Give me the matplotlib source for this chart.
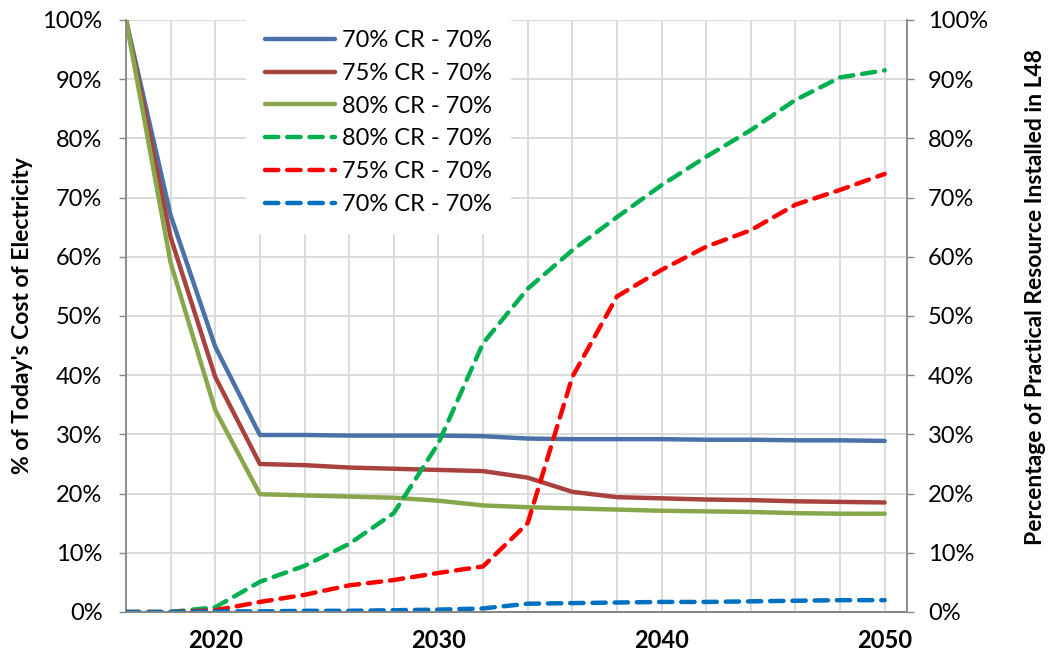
import matplotlib.pyplot as plt
from matplotlib.ticker import FuncFormatter

plt.rcParams['font.family'] = ['Lato', 'DejaVu Sans']

years = list(range(2016, 2051, 2))

# cost of electricity, % of today (left axis)
cost_70 = [100, 67, 44.8, 29.9, 29.9, 29.8, 29.8, 29.8, 29.7, 29.3, 29.2, 29.2, 29.2, 29.1, 29.1, 29.0, 29.0, 28.9]
cost_75 = [100, 63.3, 39.7, 25.0, 24.8, 24.4, 24.2, 24.0, 23.8, 22.7, 20.3, 19.4, 19.2, 19.0, 18.9, 18.7, 18.6, 18.5]
cost_80 = [100, 59, 34.1, 19.9, 19.7, 19.5, 19.3, 18.8, 18.0, 17.7, 17.5, 17.3, 17.1, 17.0, 16.9, 16.7, 16.6, 16.6]

# share of practical resource installed (right axis)
inst_80 = [0, 0, 0.8, 5.1, 7.8, 11.5, 16.7, 28.5, 45.4, 54.6, 61.1, 66.7, 72.1, 76.9, 81.4, 86.5, 90.3, 91.5]
inst_75 = [0, 0, 0.3, 1.7, 2.9, 4.5, 5.4, 6.6, 7.7, 15.0, 39.7, 53.3, 57.8, 61.7, 64.5, 68.8, 71.3, 74.0]
inst_70 = [0, 0, 0.1, 0.1, 0.2, 0.2, 0.3, 0.4, 0.6, 1.4, 1.5, 1.6, 1.7, 1.7, 1.8, 1.9, 2.0, 2.0]

labels = ['70% CR - 70%', '75% CR - 70%', '80% CR - 70%', '80% CR - 70%', '75% CR - 70%', '70% CR - 70%']

fig = plt.figure(figsize=(10.49, 6.61), dpi=100)
ax = fig.add_axes([126 / 1049, 49 / 661, 781 / 1049, 592 / 661])
ax2 = ax.twinx()

h1, = ax.plot(years, cost_70, color='#4A72A8', lw=3.2, solid_capstyle='round')
h2, = ax.plot(years, cost_75, color='#A8423F', lw=3.2, solid_capstyle='round')
h3, = ax.plot(years, cost_80, color='#88A64B', lw=3.2, solid_capstyle='round')

dash = (3.0, 2.0)
h4, = ax2.plot(years, inst_80, color='#00B050', lw=3.2, dashes=dash, dash_capstyle='round')
h5, = ax2.plot(years, inst_75, color='#FF0000', lw=3.2, dashes=dash, dash_capstyle='round')
h6, = ax2.plot(years, inst_70, color='#0070C0', lw=3.2, dashes=dash, dash_capstyle='round')

pct = FuncFormatter(lambda v, p: '%d%%' % v)
for a in (ax, ax2):
    a.set_xlim(2016, 2051)
    a.set_ylim(0, 100)
    a.set_yticks(range(0, 101, 10))
    a.yaxis.set_major_formatter(pct)
    a.tick_params(axis='y', labelsize=17, length=5, width=1, color='#868686')
    for s in a.spines.values():
        s.set_color('#868686')
        s.set_linewidth(1.3)
    a.spines['top'].set_visible(False)

ax.tick_params(axis='y', pad=12)
ax2.tick_params(axis='y', pad=10)
ax.spines['right'].set_visible(False)
ax2.spines['left'].set_visible(False)

ax.set_xticks([2020, 2030, 2040, 2050])
ax.set_xticks(years, minor=True)
ax.tick_params(axis='x', which='both', length=0, labelsize=17, pad=12)
for t in ax.get_xticklabels():
    t.set_fontweight('bold')
ax.grid(True, which='both', axis='x', color='#D9D9D9', lw=1.3)
ax.grid(True, which='major', axis='y', color='#D9D9D9', lw=1.3)
ax.set_axisbelow(True)

ax.set_ylabel("% of Today's Cost of Electricity", fontsize=16.5, fontweight='bold')
ax.yaxis.set_label_coords(-0.119, 0.5)
ax2.set_ylabel('Percentage of Practical Resource Installed in L48', fontsize=16.5, fontweight='bold')
ax2.yaxis.set_label_coords(1.151, 0.532)

leg = ax2.legend([h1, h2, h3, h4, h5, h6], labels, loc='upper left', bbox_to_anchor=(0.154, 1.015),
                 borderaxespad=0, fontsize=17, frameon=True, facecolor='white', edgecolor='none',
                 framealpha=1, fancybox=False, handlelength=2.95, handletextpad=0.3,
                 labelspacing=0.5, borderpad=0.8)

fig.savefig('out.png', dpi=100)
